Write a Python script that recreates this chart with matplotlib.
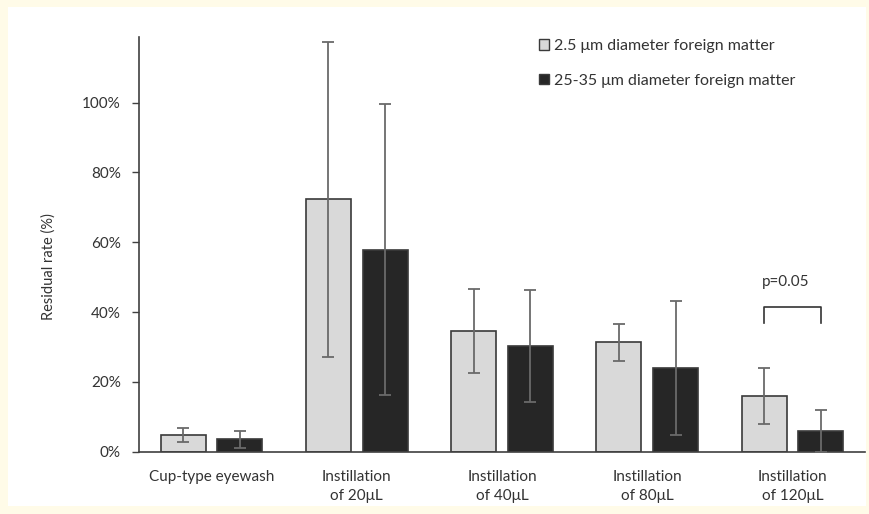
import matplotlib
matplotlib.use("Agg")
import matplotlib.pyplot as plt
from matplotlib.patches import Patch, Rectangle
import numpy as np

plt.rcParams['font.family'] = ['Lato', 'DejaVu Sans']

categories = ["Cup-type eyewash", "Instillation\nof 20\u03bcL", "Instillation\nof 40\u03bcL",
              "Instillation\nof 80\u03bcL", "Instillation\nof 120\u03bcL"]
small_mean = [4.8, 72.3, 34.6, 31.3, 15.9]
small_err = [2.1, 45.2, 12.0, 5.3, 8.0]
large_mean = [3.6, 57.9, 30.2, 24.0, 5.9]
large_err = [2.4, 41.6, 16.1, 19.1, 6.1]
series_names = ["2.5 \u03bcm diameter foreign matter", "25-35 \u03bcm diameter foreign matter"]
yticks = [0, 20, 40, 60, 80, 100]

W, H = 870, 514
fig = plt.figure(figsize=(W / 100, H / 100), dpi=100)
fig.patch.set_facecolor('#fffbe8')
# white card behind the chart
fig.patches.append(Rectangle((8 / W, 8 / H), 858 / W, 499 / H, transform=fig.transFigure,
                             facecolor='white', edgecolor='none', zorder=-10))

ax = fig.add_axes([139 / W, (H - 451.7) / H, 726 / W, 414.7 / H])
ax.set_facecolor('none')
ax.set_zorder(1)

x = np.arange(len(categories))
w = 0.31
off = 0.195
txt = '#333333'
edge = '#3a3a3a'
errc = '#6a6a6a'

ax.bar(x - off, small_mean, w, color='#d9d9d9', edgecolor=edge, linewidth=1.2, zorder=2)
ax.bar(x + off, large_mean, w, color='#262626', edgecolor=edge, linewidth=1.2, zorder=2)
ax.errorbar(x - off, small_mean, yerr=small_err, fmt='none', ecolor=errc, elinewidth=1.3,
            capsize=4, capthick=1.3, zorder=3)
ax.errorbar(x + off, large_mean, yerr=large_err, fmt='none', ecolor=errc, elinewidth=1.3,
            capsize=4, capthick=1.3, zorder=3)

ax.set_xlim(-0.5, len(categories) - 0.5)
ax.set_ylim(0, 118.8)
ax.set_yticks(yticks)
ax.set_yticklabels([f"{t}%" for t in yticks])
ax.set_xticks(x)
ax.set_xticklabels(categories, fontsize=11, color=txt, linespacing=1.45)
ax.tick_params(axis='x', length=0, pad=13)
ax.tick_params(axis='y', direction='out', length=5, width=1, color='#404040',
               labelsize=11, labelcolor=txt, pad=8)
for s in ['top', 'right']:
    ax.spines[s].set_visible(False)
for s in ['left', 'bottom']:
    ax.spines[s].set_color('#404040')
    ax.spines[s].set_linewidth(1.2)

fig.text(49 / W, 1 - 267 / H, "Residual rate (%)", rotation=90, ha='center', va='center',
         fontsize=10.5, color=txt)

# significance bracket for the 120 uL group
bx0, bx1 = x[4] - off, x[4] + off
ax.plot([bx0, bx0, bx1, bx1], [36.8, 41.5, 41.5, 36.8], color='#333333', linewidth=1.2,
        zorder=3)
ax.text(x[4] - 0.05, 46.5, "p=0.05", ha='center', va='bottom', fontsize=11, color=txt)

handles = [Patch(facecolor='#d9d9d9', edgecolor=edge, linewidth=1),
           Patch(facecolor='#262626', edgecolor=edge, linewidth=1)]
fig.legend(handles, series_names, loc='upper left', bbox_to_anchor=(531 / W, 1 - 31 / H),
           frameon=False, fontsize=11.5, handlelength=0.65, handleheight=0.65,
           handletextpad=0.3, labelspacing=1.3, labelcolor=txt, borderpad=0)

fig.savefig("out.png", dpi=100, facecolor=fig.get_facecolor())
